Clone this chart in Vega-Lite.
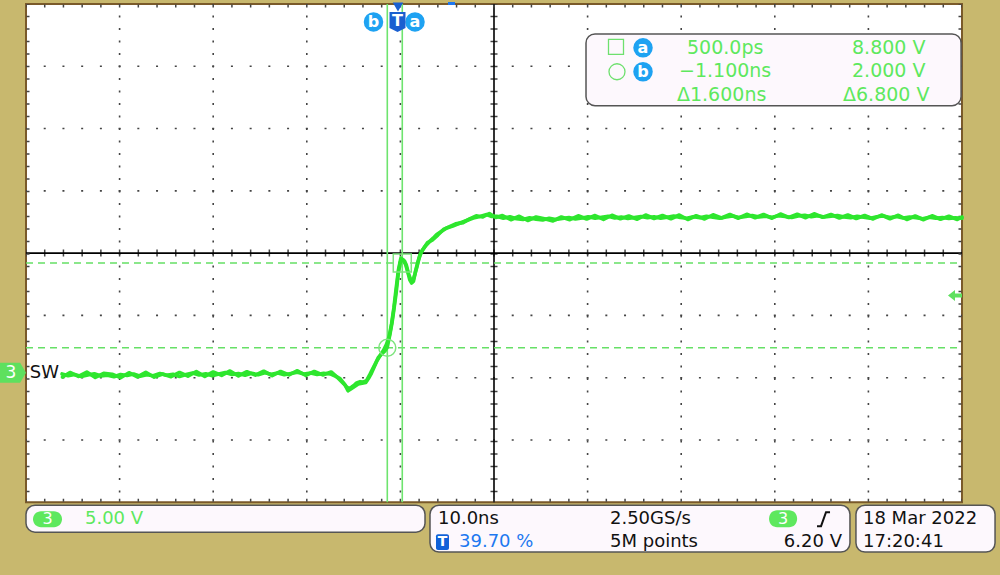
{
  "$schema": "https://vega.github.io/schema/vega-lite/v6.json",
  "width": 1000,
  "height": 575,
  "autosize": {"type": "fit", "contains": "padding"},
  "padding": 0,
  "background": "#c8b86e",
  "config": {"view": {"stroke": null}},
  "datasets": {
    "screen": [{"t": -39.7, "t2": 60.3, "v": 29.6, "v2": -10.4}],
    "vgrid": [{"t": -29.7, "v": 29.6, "v2": -10.4}, {"t": -19.7, "v": 29.6, "v2": -10.4}, {"t": -9.7, "v": 29.6, "v2": -10.4}, {"t": 0.3, "v": 29.6, "v2": -10.4}, {"t": 20.3, "v": 29.6, "v2": -10.4}, {"t": 30.3, "v": 29.6, "v2": -10.4}, {"t": 40.3, "v": 29.6, "v2": -10.4}, {"t": 50.3, "v": 29.6, "v2": -10.4}],
    "hgrid": [{"t": -39.7, "t2": 60.3, "v": -5.4}, {"t": -39.7, "t2": 60.3, "v": -0.4}, {"t": -39.7, "t2": 60.3, "v": 4.6}, {"t": -39.7, "t2": 60.3, "v": 14.6}, {"t": -39.7, "t2": 60.3, "v": 19.6}, {"t": -39.7, "t2": 60.3, "v": 24.6}],
    "vcenter": [{"t": 10.3, "v": 29.6, "v2": -10.4}],
    "hcenter": [{"t": -39.7, "t2": 60.3, "v": 9.6}],
    "hborder": [{"t": -39.7, "t2": 60.3, "v": 29.44}, {"t": -39.7, "t2": 60.3, "v": -10.24}],
    "vborder": [{"t": -39.486, "v": 29.6, "v2": -10.4}, {"t": 60.086, "v": 29.6, "v2": -10.4}],
    "cursorV": [{"t": -1.1, "v": 29.6, "v2": -10.4}, {"t": 0.5, "v": 29.6, "v2": -10.4}],
    "cursorH": [{"t": -39.7, "t2": 60.3, "v": 8.8}, {"t": -39.7, "t2": 60.3, "v": 2.0}],
    "wave": [
      {"acq": 1, "t": -35.85, "v": -0.10}, {"acq": 1, "t": -35.2, "v": -0.25}, {"acq": 1, "t": -34.5, "v": -0.15}, {"acq": 1, "t": -33.8, "v": -0.30}, {"acq": 1, "t": -33.1, "v": -0.18}, {"acq": 1, "t": -32.4, "v": -0.08}, {"acq": 1, "t": -31.7, "v": -0.26}, {"acq": 1, "t": -31.0, "v": -0.20}, {"acq": 1, "t": -30.3, "v": -0.32}, {"acq": 1, "t": -29.6, "v": -0.14}, {"acq": 1, "t": -28.9, "v": -0.22}, {"acq": 1, "t": -28.2, "v": -0.10}, {"acq": 1, "t": -27.5, "v": -0.28}, {"acq": 1, "t": -26.8, "v": -0.16}, {"acq": 1, "t": -26.1, "v": -0.24}, {"acq": 1, "t": -25.4, "v": -0.06}, {"acq": 1, "t": -24.7, "v": -0.20}, {"acq": 1, "t": -24.0, "v": -0.12}, {"acq": 1, "t": -23.3, "v": -0.30}, {"acq": 1, "t": -22.6, "v": -0.14}, {"acq": 1, "t": -21.9, "v": -0.02}, {"acq": 1, "t": -21.2, "v": -0.18}, {"acq": 1, "t": -20.5, "v": -0.08}, {"acq": 1, "t": -19.8, "v": -0.24}, {"acq": 1, "t": -19.1, "v": -0.10}, {"acq": 1, "t": -18.4, "v": 0.02}, {"acq": 1, "t": -17.7, "v": -0.14}, {"acq": 1, "t": -17.0, "v": -0.06}, {"acq": 1, "t": -16.3, "v": -0.20}, {"acq": 1, "t": -15.6, "v": -0.04}, {"acq": 1, "t": -14.9, "v": -0.16}, {"acq": 1, "t": -14.2, "v": 0.00}, {"acq": 1, "t": -13.5, "v": -0.12}, {"acq": 1, "t": -12.8, "v": -0.02}, {"acq": 1, "t": -12.1, "v": -0.16}, {"acq": 1, "t": -11.4, "v": -0.06}, {"acq": 1, "t": -10.7, "v": 0.04}, {"acq": 1, "t": -10.0, "v": -0.10}, {"acq": 1, "t": -9.3, "v": -0.02}, {"acq": 1, "t": -8.6, "v": -0.14}, {"acq": 1, "t": -7.9, "v": -0.04}, {"acq": 1, "t": -7.2, "v": -0.10}, {"acq": 1, "t": -6.6, "v": -0.30}, {"acq": 1, "t": -6.15, "v": -0.48}, {"acq": 1, "t": -5.8, "v": -0.80}, {"acq": 1, "t": -5.5, "v": -1.10}, {"acq": 1, "t": -5.2, "v": -1.28}, {"acq": 1, "t": -4.9, "v": -1.15}, {"acq": 1, "t": -4.6, "v": -0.98}, {"acq": 1, "t": -4.37, "v": -0.82}, {"acq": 1, "t": -4.0, "v": -0.72}, {"acq": 1, "t": -3.6, "v": -0.74}, {"acq": 1, "t": -3.3, "v": -0.62}, {"acq": 1, "t": -3.0, "v": -0.20}, {"acq": 1, "t": -2.77, "v": 0.16}, {"acq": 1, "t": -2.4, "v": 0.70}, {"acq": 1, "t": -2.06, "v": 1.22}, {"acq": 1, "t": -1.7, "v": 1.50}, {"acq": 1, "t": -1.35, "v": 1.75}, {"acq": 1, "t": -1.1, "v": 2.05}, {"acq": 1, "t": -0.81, "v": 3.12}, {"acq": 1, "t": -0.6, "v": 4.0}, {"acq": 1, "t": -0.46, "v": 4.72}, {"acq": 1, "t": -0.17, "v": 6.32}, {"acq": 1, "t": 0.08, "v": 8.02}, {"acq": 1, "t": 0.3, "v": 8.90}, {"acq": 1, "t": 0.5, "v": 9.10}, {"acq": 1, "t": 0.75, "v": 8.95}, {"acq": 1, "t": 0.95, "v": 8.60}, {"acq": 1, "t": 1.15, "v": 8.00}, {"acq": 1, "t": 1.33, "v": 7.62}, {"acq": 1, "t": 1.5, "v": 7.38}, {"acq": 1, "t": 1.65, "v": 7.40}, {"acq": 1, "t": 1.85, "v": 7.90}, {"acq": 1, "t": 2.04, "v": 8.42}, {"acq": 1, "t": 2.3, "v": 9.20}, {"acq": 1, "t": 2.58, "v": 9.76}, {"acq": 1, "t": 3.0, "v": 10.20}, {"acq": 1, "t": 3.46, "v": 10.56}, {"acq": 1, "t": 3.8, "v": 10.80}, {"acq": 1, "t": 4.18, "v": 11.10}, {"acq": 1, "t": 4.7, "v": 11.35}, {"acq": 1, "t": 5.25, "v": 11.62}, {"acq": 1, "t": 5.9, "v": 11.78}, {"acq": 1, "t": 6.67, "v": 12.02}, {"acq": 1, "t": 7.3, "v": 12.20}, {"acq": 1, "t": 8.09, "v": 12.42}, {"acq": 1, "t": 8.8, "v": 12.55}, {"acq": 1, "t": 9.52, "v": 12.70}, {"acq": 1, "t": 10.0, "v": 12.55}, {"acq": 1, "t": 10.59, "v": 12.56},
      {"acq": 1, "t": 11.3, "v": 12.40}, {"acq": 1, "t": 12.0, "v": 12.52}, {"acq": 1, "t": 12.7, "v": 12.36}, {"acq": 1, "t": 13.4, "v": 12.30}, {"acq": 1, "t": 14.1, "v": 12.44}, {"acq": 1, "t": 14.8, "v": 12.32}, {"acq": 1, "t": 15.5, "v": 12.26}, {"acq": 1, "t": 16.2, "v": 12.40}, {"acq": 1, "t": 16.9, "v": 12.30}, {"acq": 1, "t": 17.6, "v": 12.38}, {"acq": 1, "t": 18.3, "v": 12.46}, {"acq": 1, "t": 19.0, "v": 12.34}, {"acq": 1, "t": 19.7, "v": 12.42}, {"acq": 1, "t": 20.4, "v": 12.52}, {"acq": 1, "t": 21.1, "v": 12.40}, {"acq": 1, "t": 21.8, "v": 12.48}, {"acq": 1, "t": 22.5, "v": 12.56}, {"acq": 1, "t": 23.2, "v": 12.42}, {"acq": 1, "t": 23.9, "v": 12.50}, {"acq": 1, "t": 24.6, "v": 12.38}, {"acq": 1, "t": 25.3, "v": 12.46}, {"acq": 1, "t": 26.0, "v": 12.54}, {"acq": 1, "t": 26.7, "v": 12.44}, {"acq": 1, "t": 27.4, "v": 12.52}, {"acq": 1, "t": 28.1, "v": 12.40}, {"acq": 1, "t": 28.8, "v": 12.48}, {"acq": 1, "t": 29.5, "v": 12.58}, {"acq": 1, "t": 30.2, "v": 12.46}, {"acq": 1, "t": 30.9, "v": 12.40}, {"acq": 1, "t": 31.6, "v": 12.52}, {"acq": 1, "t": 32.3, "v": 12.44}, {"acq": 1, "t": 33.0, "v": 12.56}, {"acq": 1, "t": 33.7, "v": 12.48}, {"acq": 1, "t": 34.4, "v": 12.40}, {"acq": 1, "t": 35.1, "v": 12.50}, {"acq": 1, "t": 35.8, "v": 12.58}, {"acq": 1, "t": 36.5, "v": 12.46}, {"acq": 1, "t": 37.2, "v": 12.54}, {"acq": 1, "t": 37.9, "v": 12.62}, {"acq": 1, "t": 38.6, "v": 12.50}, {"acq": 1, "t": 39.3, "v": 12.56}, {"acq": 1, "t": 40.0, "v": 12.48}, {"acq": 1, "t": 40.7, "v": 12.60}, {"acq": 1, "t": 41.4, "v": 12.54}, {"acq": 1, "t": 42.1, "v": 12.46}, {"acq": 1, "t": 42.8, "v": 12.58}, {"acq": 1, "t": 43.5, "v": 12.64}, {"acq": 1, "t": 44.2, "v": 12.52}, {"acq": 1, "t": 44.9, "v": 12.60}, {"acq": 1, "t": 45.6, "v": 12.50}, {"acq": 1, "t": 46.3, "v": 12.56}, {"acq": 1, "t": 47.0, "v": 12.62}, {"acq": 1, "t": 47.7, "v": 12.50}, {"acq": 1, "t": 48.4, "v": 12.44}, {"acq": 1, "t": 49.1, "v": 12.56}, {"acq": 1, "t": 49.8, "v": 12.48}, {"acq": 1, "t": 50.5, "v": 12.40}, {"acq": 1, "t": 51.2, "v": 12.52}, {"acq": 1, "t": 51.9, "v": 12.58}, {"acq": 1, "t": 52.6, "v": 12.46}, {"acq": 1, "t": 53.3, "v": 12.54}, {"acq": 1, "t": 54.0, "v": 12.42}, {"acq": 1, "t": 54.7, "v": 12.50}, {"acq": 1, "t": 55.4, "v": 12.44}, {"acq": 1, "t": 56.1, "v": 12.36}, {"acq": 1, "t": 56.8, "v": 12.48}, {"acq": 1, "t": 57.5, "v": 12.40}, {"acq": 1, "t": 58.2, "v": 12.46}, {"acq": 1, "t": 58.9, "v": 12.38}, {"acq": 1, "t": 59.6, "v": 12.44}, {"acq": 1, "t": 60.3, "v": 12.40},
      {"acq": 2, "t": -35.8, "v": -0.35}, {"acq": 2, "t": -35.0, "v": 0.02}, {"acq": 2, "t": -34.1, "v": -0.30}, {"acq": 2, "t": -33.2, "v": 0.05}, {"acq": 2, "t": -32.3, "v": -0.38}, {"acq": 2, "t": -31.4, "v": -0.05}, {"acq": 2, "t": -30.5, "v": -0.12}, {"acq": 2, "t": -29.6, "v": -0.40}, {"acq": 2, "t": -28.7, "v": 0.00}, {"acq": 2, "t": -27.8, "v": -0.34}, {"acq": 2, "t": -26.9, "v": 0.04}, {"acq": 2, "t": -26.0, "v": -0.36}, {"acq": 2, "t": -25.1, "v": -0.10}, {"acq": 2, "t": -24.2, "v": -0.32}, {"acq": 2, "t": -23.3, "v": 0.02}, {"acq": 2, "t": -22.4, "v": -0.28}, {"acq": 2, "t": -21.5, "v": 0.10}, {"acq": 2, "t": -20.6, "v": -0.30}, {"acq": 2, "t": -19.7, "v": 0.06}, {"acq": 2, "t": -18.8, "v": -0.22}, {"acq": 2, "t": -17.9, "v": 0.14}, {"acq": 2, "t": -17.0, "v": -0.26}, {"acq": 2, "t": -16.1, "v": 0.08}, {"acq": 2, "t": -15.2, "v": -0.20}, {"acq": 2, "t": -14.3, "v": 0.12}, {"acq": 2, "t": -13.4, "v": -0.24}, {"acq": 2, "t": -12.5, "v": 0.10}, {"acq": 2, "t": -11.6, "v": -0.18}, {"acq": 2, "t": -10.7, "v": 0.16}, {"acq": 2, "t": -9.8, "v": -0.22}, {"acq": 2, "t": -8.9, "v": 0.10}, {"acq": 2, "t": -8.0, "v": -0.18}, {"acq": 2, "t": -7.1, "v": 0.06}, {"acq": 2, "t": -6.4, "v": -0.40}, {"acq": 2, "t": -6.0, "v": -0.70}, {"acq": 2, "t": -5.6, "v": -1.00}, {"acq": 2, "t": -5.3, "v": -1.45}, {"acq": 2, "t": -5.0, "v": -1.30}, {"acq": 2, "t": -4.6, "v": -1.10}, {"acq": 2, "t": -4.2, "v": -0.90}, {"acq": 2, "t": -3.8, "v": -0.85}, {"acq": 2, "t": -3.4, "v": -0.78}, {"acq": 2, "t": -3.1, "v": -0.45}, {"acq": 2, "t": -2.8, "v": -0.05}, {"acq": 2, "t": -2.5, "v": 0.45}, {"acq": 2, "t": -2.2, "v": 0.95}, {"acq": 2, "t": -1.85, "v": 1.40}, {"acq": 2, "t": -1.5, "v": 1.80}, {"acq": 2, "t": -1.2, "v": 2.25}, {"acq": 2, "t": -0.9, "v": 2.90}, {"acq": 2, "t": -0.65, "v": 3.90}, {"acq": 2, "t": -0.4, "v": 5.20}, {"acq": 2, "t": -0.15, "v": 6.80}, {"acq": 2, "t": 0.1, "v": 8.30}, {"acq": 2, "t": 0.35, "v": 9.20}, {"acq": 2, "t": 0.6, "v": 9.05}, {"acq": 2, "t": 0.85, "v": 8.70}, {"acq": 2, "t": 1.1, "v": 8.05}, {"acq": 2, "t": 1.3, "v": 7.45}, {"acq": 2, "t": 1.5, "v": 7.20}, {"acq": 2, "t": 1.7, "v": 7.35}, {"acq": 2, "t": 1.9, "v": 8.10}, {"acq": 2, "t": 2.15, "v": 8.85}, {"acq": 2, "t": 2.4, "v": 9.50}, {"acq": 2, "t": 2.8, "v": 10.00}, {"acq": 2, "t": 3.2, "v": 10.45}, {"acq": 2, "t": 3.7, "v": 10.65}, {"acq": 2, "t": 4.3, "v": 11.05}, {"acq": 2, "t": 4.9, "v": 11.50}, {"acq": 2, "t": 5.5, "v": 11.70}, {"acq": 2, "t": 6.2, "v": 11.95}, {"acq": 2, "t": 7.0, "v": 12.05}, {"acq": 2, "t": 7.7, "v": 12.35}, {"acq": 2, "t": 8.4, "v": 12.60}, {"acq": 2, "t": 9.1, "v": 12.50}, {"acq": 2, "t": 9.8, "v": 12.78}, {"acq": 2, "t": 10.5, "v": 12.46},
      {"acq": 2, "t": 11.2, "v": 12.62}, {"acq": 2, "t": 12.1, "v": 12.28}, {"acq": 2, "t": 13.0, "v": 12.56}, {"acq": 2, "t": 13.9, "v": 12.22}, {"acq": 2, "t": 14.8, "v": 12.50}, {"acq": 2, "t": 15.7, "v": 12.36}, {"acq": 2, "t": 16.6, "v": 12.18}, {"acq": 2, "t": 17.5, "v": 12.50}, {"acq": 2, "t": 18.4, "v": 12.28}, {"acq": 2, "t": 19.3, "v": 12.60}, {"acq": 2, "t": 20.2, "v": 12.34}, {"acq": 2, "t": 21.1, "v": 12.62}, {"acq": 2, "t": 22.0, "v": 12.30}, {"acq": 2, "t": 22.9, "v": 12.64}, {"acq": 2, "t": 23.8, "v": 12.36}, {"acq": 2, "t": 24.7, "v": 12.58}, {"acq": 2, "t": 25.6, "v": 12.32}, {"acq": 2, "t": 26.5, "v": 12.66}, {"acq": 2, "t": 27.4, "v": 12.38}, {"acq": 2, "t": 28.3, "v": 12.62}, {"acq": 2, "t": 29.2, "v": 12.36}, {"acq": 2, "t": 30.1, "v": 12.66}, {"acq": 2, "t": 31.0, "v": 12.30}, {"acq": 2, "t": 31.9, "v": 12.60}, {"acq": 2, "t": 32.8, "v": 12.34}, {"acq": 2, "t": 33.7, "v": 12.68}, {"acq": 2, "t": 34.6, "v": 12.42}, {"acq": 2, "t": 35.5, "v": 12.70}, {"acq": 2, "t": 36.4, "v": 12.40}, {"acq": 2, "t": 37.3, "v": 12.72}, {"acq": 2, "t": 38.2, "v": 12.44}, {"acq": 2, "t": 39.1, "v": 12.70}, {"acq": 2, "t": 40.0, "v": 12.40}, {"acq": 2, "t": 40.9, "v": 12.74}, {"acq": 2, "t": 41.8, "v": 12.46}, {"acq": 2, "t": 42.7, "v": 12.72}, {"acq": 2, "t": 43.6, "v": 12.44}, {"acq": 2, "t": 44.5, "v": 12.76}, {"acq": 2, "t": 45.4, "v": 12.48}, {"acq": 2, "t": 46.3, "v": 12.70}, {"acq": 2, "t": 47.2, "v": 12.42}, {"acq": 2, "t": 48.1, "v": 12.66}, {"acq": 2, "t": 49.0, "v": 12.38}, {"acq": 2, "t": 49.9, "v": 12.62}, {"acq": 2, "t": 50.8, "v": 12.34}, {"acq": 2, "t": 51.7, "v": 12.66}, {"acq": 2, "t": 52.6, "v": 12.36}, {"acq": 2, "t": 53.5, "v": 12.64}, {"acq": 2, "t": 54.4, "v": 12.30}, {"acq": 2, "t": 55.3, "v": 12.58}, {"acq": 2, "t": 56.2, "v": 12.28}, {"acq": 2, "t": 57.1, "v": 12.60}, {"acq": 2, "t": 58.0, "v": 12.32}, {"acq": 2, "t": 58.9, "v": 12.56}, {"acq": 2, "t": 59.8, "v": 12.30}, {"acq": 2, "t": 60.3, "v": 12.50}
    ],
    "markSquare": [{"t": 0.5, "v": 8.8}],
    "markCircle": [{"t": -1.1, "v": 2.0}],
    "readoutBox": [{"t": 20.13, "t2": 60.2, "v": 27.2, "v2": 21.44}],
    "readoutText": [
      {"t": 30.92, "v": 26.08, "label": "500.0ps"},
      {"t": 30.065, "v": 24.24, "label": "−1.100ns"},
      {"t": 29.851, "v": 22.32, "label": "Δ1.600ns"},
      {"t": 48.548, "v": 26.08, "label": "8.800 V"},
      {"t": 48.548, "v": 24.24, "label": "2.000 V"},
      {"t": 47.587, "v": 22.32, "label": "Δ6.800 V"}
    ],
    "readoutSquare": [{"t": 23.334, "v": 26.16}],
    "readoutCircle": [{"t": 23.44, "v": 24.16}],
    "blueBadges": [
      {"t": 26.22, "v": 26.08, "label": "a"},
      {"t": 26.22, "v": 24.16, "label": "b"},
      {"t": -2.574, "v": 28.16, "label": "b"},
      {"t": 1.86, "v": 28.16, "label": "a"}
    ],
    "trigBadge": [{"t": -0.01, "v": 28.16, "label": "T"}],
    "trigArrow": [{"t": 0.043, "v": 29.36}],
    "hposMark": [{"t": 5.385, "t2": 6.133, "v": 29.76, "v2": 29.52}],
    "chMarker": [{"t": -41.089, "v": 0.0}],
    "chMarkerText": [{"t": -41.3, "v": 0.0, "label": "3"}],
    "swLabel": [{"t": -39.3, "v": 0.0, "label": "SW"}],
    "trigLevel": [{"t": 59.552, "v": 6.2}],
    "statusBoxes": [
      {"t": -39.7, "t2": 2.93, "v": -10.64, "v2": -12.8},
      {"t": 3.462, "t2": 48.33, "v": -10.64, "v2": -14.4},
      {"t": 48.97, "t2": 63.83, "v": -10.64, "v2": -14.4}
    ],
    "pills": [
      {"t": -38.952, "t2": -35.854, "v": -11.12, "v2": -12.4},
      {"t": 39.69, "t2": 42.68, "v": -11.04, "v2": -12.4}
    ],
    "pillText": [
      {"t": -37.403, "v": -11.76, "label": "3"},
      {"t": 41.175, "v": -11.72, "label": "3"}
    ],
    "greenStatus": [{"t": -33.397, "v": -11.76, "label": "5.00 V"}],
    "blackStatus": [
      {"t": 4.317, "v": -11.76, "label": "10.0ns"},
      {"t": 22.693, "v": -11.76, "label": "2.50GS/s"},
      {"t": 22.693, "v": -13.6, "label": "5M points"},
      {"t": 49.723, "v": -11.76, "label": "18 Mar 2022"},
      {"t": 49.723, "v": -13.6, "label": "17:20:41"}
    ],
    "blackStatusRight": [{"t": 47.479, "v": -13.6, "label": "6.20 V"}],
    "slope": [{"t": 44.81, "v": -12.32}, {"t": 45.24, "v": -12.32}, {"t": 45.77, "v": -11.2}, {"t": 46.2, "v": -11.2}],
    "tBox": [{"t": 4.103, "t2": 5.492, "v": -12.96, "v2": -14.24}],
    "tBoxText": [{"t": 4.798, "v": -13.6, "label": "T"}],
    "blueStatus": [{"t": 6.561, "v": -13.6, "label": "39.70 %"}]
  },
  "encoding": {
    "x": {"field": "t", "type": "quantitative", "scale": {"domain": [-42.478, 64.36], "nice": false, "zero": false}, "axis": null},
    "y": {"field": "v", "type": "quantitative", "scale": {"domain": [-16.24, 29.76], "nice": false, "zero": false}, "axis": null}
  },
  "layer": [
    {"data": {"name": "screen"}, "mark": {"type": "rect", "fill": "#ffffff", "stroke": "#7a5a2a", "strokeWidth": 2}, "encoding": {"x2": {"field": "t2"}, "y2": {"field": "v2"}}},
    {"data": {"name": "vgrid"}, "mark": {"type": "rule", "color": "#444444", "strokeWidth": 1.6, "strokeDash": [2, 10.5], "strokeDashOffset": 1}, "encoding": {"y2": {"field": "v2"}}},
    {"data": {"name": "hgrid"}, "mark": {"type": "rule", "color": "#444444", "strokeWidth": 1.6, "strokeDash": [2, 16.72], "strokeDashOffset": 1}, "encoding": {"x2": {"field": "t2"}}},
    {"data": {"name": "vcenter"}, "mark": {"type": "rule", "color": "#444444", "strokeWidth": 7, "strokeDash": [1.5, 11], "strokeDashOffset": 0.75}, "encoding": {"y2": {"field": "v2"}}},
    {"data": {"name": "hcenter"}, "mark": {"type": "rule", "color": "#444444", "strokeWidth": 7, "strokeDash": [1.5, 17.22], "strokeDashOffset": 0.75}, "encoding": {"x2": {"field": "t2"}}},
    {"data": {"name": "vcenter"}, "mark": {"type": "rule", "color": "#000000", "strokeWidth": 1.6}, "encoding": {"y2": {"field": "v2"}}},
    {"data": {"name": "hcenter"}, "mark": {"type": "rule", "color": "#000000", "strokeWidth": 1.6}, "encoding": {"x2": {"field": "t2"}}},
    {"data": {"name": "hborder"}, "mark": {"type": "rule", "color": "#444444", "strokeWidth": 3, "strokeDash": [1.5, 17.22], "strokeDashOffset": 0.75}, "encoding": {"x2": {"field": "t2"}}},
    {"data": {"name": "vborder"}, "mark": {"type": "rule", "color": "#444444", "strokeWidth": 3, "strokeDash": [1.5, 11], "strokeDashOffset": 0.75}, "encoding": {"y2": {"field": "v2"}}},
    {"data": {"name": "cursorH"}, "mark": {"type": "rule", "color": "#66e066", "strokeWidth": 1.5, "strokeDash": [7, 5]}, "encoding": {"x2": {"field": "t2"}}},
    {"data": {"name": "cursorV"}, "mark": {"type": "rule", "color": "#6ee46e", "strokeWidth": 1.6}, "encoding": {"y2": {"field": "v2"}}},
    {"data": {"name": "wave"}, "mark": {"type": "line", "color": "#2ee62e", "strokeWidth": 3.6, "strokeJoin": "round", "strokeCap": "round"}, "encoding": {"detail": {"field": "acq", "type": "nominal"}, "order": {"field": "t", "type": "quantitative"}}},
    {"data": {"name": "markSquare"}, "mark": {"type": "point", "shape": "square", "filled": false, "stroke": "#7ee47e", "strokeWidth": 1.5, "size": 324, "opacity": 1}},
    {"data": {"name": "markCircle"}, "mark": {"type": "point", "shape": "circle", "filled": false, "stroke": "#7ee47e", "strokeWidth": 1.5, "size": 289, "opacity": 1}},
    {"data": {"name": "readoutBox"}, "mark": {"type": "rect", "fill": "#fdf8fd", "stroke": "#555555", "strokeWidth": 1.5, "cornerRadius": 9}, "encoding": {"x2": {"field": "t2"}, "y2": {"field": "v2"}}},
    {"data": {"name": "readoutText"}, "mark": {"type": "text", "align": "left", "baseline": "middle", "font": "DejaVu Sans", "fontSize": 19, "color": "#5ee85e"}, "encoding": {"text": {"field": "label"}}},
    {"data": {"name": "readoutSquare"}, "mark": {"type": "point", "shape": "square", "filled": false, "stroke": "#6ee06e", "strokeWidth": 1.3, "size": 225, "opacity": 1}},
    {"data": {"name": "readoutCircle"}, "mark": {"type": "point", "shape": "circle", "filled": false, "stroke": "#6ee06e", "strokeWidth": 1.3, "size": 256, "opacity": 1}},
    {"data": {"name": "blueBadges"}, "mark": {"type": "point", "shape": "circle", "filled": true, "color": "#1ea2f2", "size": 380, "opacity": 1}},
    {"data": {"name": "blueBadges"}, "mark": {"type": "text", "align": "center", "baseline": "middle", "font": "DejaVu Sans", "fontWeight": "bold", "fontSize": 16, "color": "#ffffff", "dy": 0}, "encoding": {"text": {"field": "label"}}},
    {"data": {"name": "trigBadge"}, "mark": {"type": "point", "shape": "M -0.8 -1 L 0.8 -1 L 0.8 0.6 L 0 1 L -0.8 0.6 Z", "filled": true, "color": "#1a5fd0", "size": 400, "opacity": 1}},
    {"data": {"name": "trigBadge"}, "mark": {"type": "text", "align": "center", "baseline": "middle", "font": "DejaVu Sans", "fontWeight": "bold", "fontSize": 16, "color": "#ffffff", "dy": -1}, "encoding": {"text": {"field": "label"}}},
    {"data": {"name": "trigArrow"}, "mark": {"type": "point", "shape": "triangle-down", "filled": true, "color": "#1a5fd0", "size": 110, "opacity": 1}},
    {"data": {"name": "hposMark"}, "mark": {"type": "rect", "fill": "#1e78f0"}, "encoding": {"x2": {"field": "t2"}, "y2": {"field": "v2"}}},
    {"data": {"name": "chMarker"}, "mark": {"type": "point", "shape": "M -1 -0.77 L 0.55 -0.77 L 1 0 L 0.55 0.77 L -1 0.77 Z", "filled": true, "color": "#5ee05e", "size": 676, "opacity": 1}},
    {"data": {"name": "chMarkerText"}, "mark": {"type": "text", "align": "center", "baseline": "middle", "font": "DejaVu Sans", "fontSize": 17, "color": "#ffffff"}, "encoding": {"text": {"field": "label"}}},
    {"data": {"name": "swLabel"}, "mark": {"type": "text", "align": "left", "baseline": "middle", "font": "DejaVu Sans", "fontSize": 18, "color": "#111111"}, "encoding": {"text": {"field": "label"}}},
    {"data": {"name": "trigLevel"}, "mark": {"type": "point", "shape": "M -1 0 L 0 -0.8 L 0 -0.3 L 1 -0.3 L 1 0.3 L 0 0.3 L 0 0.8 Z", "filled": true, "color": "#5ee05e", "size": 196, "opacity": 1}},
    {"data": {"name": "statusBoxes"}, "mark": {"type": "rect", "fill": "#fdf8fd", "stroke": "#555555", "strokeWidth": 1.5, "cornerRadius": 9}, "encoding": {"x2": {"field": "t2"}, "y2": {"field": "v2"}}},
    {"data": {"name": "pills"}, "mark": {"type": "rect", "fill": "#5ee85e", "cornerRadius": 8}, "encoding": {"x2": {"field": "t2"}, "y2": {"field": "v2"}}},
    {"data": {"name": "pillText"}, "mark": {"type": "text", "align": "center", "baseline": "middle", "font": "DejaVu Sans", "fontSize": 16, "color": "#ffffff"}, "encoding": {"text": {"field": "label"}}},
    {"data": {"name": "greenStatus"}, "mark": {"type": "text", "align": "left", "baseline": "middle", "font": "DejaVu Sans", "fontSize": 18, "color": "#5ee85e"}, "encoding": {"text": {"field": "label"}}},
    {"data": {"name": "blackStatus"}, "mark": {"type": "text", "align": "left", "baseline": "middle", "font": "DejaVu Sans", "fontSize": 18, "color": "#111111"}, "encoding": {"text": {"field": "label"}}},
    {"data": {"name": "blackStatusRight"}, "mark": {"type": "text", "align": "right", "baseline": "middle", "font": "DejaVu Sans", "fontSize": 18, "color": "#111111"}, "encoding": {"text": {"field": "label"}}},
    {"data": {"name": "slope"}, "mark": {"type": "line", "color": "#111111", "strokeWidth": 2}, "encoding": {"order": {"field": "t", "type": "quantitative"}}},
    {"data": {"name": "tBox"}, "mark": {"type": "rect", "fill": "#1060d8", "cornerRadius": 2}, "encoding": {"x2": {"field": "t2"}, "y2": {"field": "v2"}}},
    {"data": {"name": "tBoxText"}, "mark": {"type": "text", "align": "center", "baseline": "middle", "font": "DejaVu Sans", "fontWeight": "bold", "fontSize": 14, "color": "#ffffff"}, "encoding": {"text": {"field": "label"}}},
    {"data": {"name": "blueStatus"}, "mark": {"type": "text", "align": "left", "baseline": "middle", "font": "DejaVu Sans", "fontSize": 18, "color": "#1e78f0"}, "encoding": {"text": {"field": "label"}}}
  ]
}
